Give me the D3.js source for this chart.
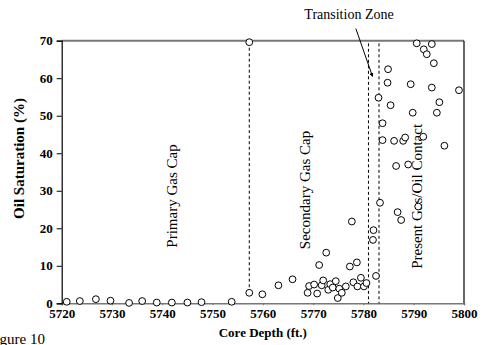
<!DOCTYPE html>
<html>
<head>
<meta charset="utf-8">
<script src="https://cdn.jsdelivr.net/npm/d3@7"></script>
<style>
  body { margin: 0; background: #fff; }
  text { font-family: "Liberation Serif", "Times New Roman", serif; }
</style>
</head>
<body>
<div id="chart"></div>
<script>
// core depth (ft.) and oil saturation (%)
const depth = [
  5721.0, 5723.6, 5726.8, 5729.7, 5733.4, 5736.0, 5738.9, 5741.9, 5745.0, 5747.8,
  5753.8, 5757.3, 5757.3, 5759.9, 5763.1, 5765.9,
  5768.9, 5769.2, 5770.2, 5770.8, 5771.2, 5771.7, 5772.0, 5772.6, 5773.0, 5773.4,
  5773.9, 5774.5, 5774.9, 5775.2, 5775.7, 5776.5, 5777.3, 5777.7, 5778.0, 5778.7,
  5778.8, 5779.5, 5780.1, 5780.6, 5781.9, 5782.0, 5782.5, 5783.3, 5783.0, 5783.8,
  5783.8, 5784.8, 5784.9, 5785.4, 5786.1, 5786.5, 5786.8, 5787.5, 5787.9, 5788.3,
  5788.9, 5789.4, 5789.8, 5790.6, 5790.9, 5791.9, 5792.0, 5792.6, 5793.6, 5793.6,
  5794.0, 5794.6, 5795.1, 5796.1, 5799.0
];
const oilSat = [
  0.4, 0.6, 1.1, 0.7, 0.1, 0.6, 0.2, 0.2, 0.2, 0.3,
  0.4, 2.8, 69.6, 2.4, 4.8, 6.4,
  2.8, 4.6, 5.0, 2.6, 10.2, 4.8, 6.1, 13.5, 3.6, 5.1,
  4.2, 5.9, 1.4, 3.9, 2.8, 4.5, 9.8, 21.8, 5.6, 10.9,
  4.5, 6.8, 4.5, 5.4, 16.9, 19.5, 7.3, 26.8, 54.8, 48.0,
  43.5, 58.8, 62.4, 52.8, 43.3, 36.6, 24.3, 22.2, 43.3, 44.2,
  37.0, 58.4, 50.8, 69.3, 25.8, 44.4, 67.7, 66.4, 69.1, 57.5,
  64.0, 50.8, 53.6, 42.0, 56.8
];

const xTicks = [5720, 5730, 5740, 5750, 5760, 5770, 5780, 5790, 5800];
const yTicks = [0, 10, 20, 30, 40, 50, 60, 70];

// dashed zone boundaries: depth, from, to
const boundaryDepth = [5757.3, 5781.0, 5783.1];
const boundaryFrom = [2.8, 0, 0];
const boundaryTo = [69.6, 69.3, 69.3];

const zoneLabels = ["Primary Gas Cap", "Secondary Gas Cap", "Present Gas/Oil Contact"];
const zoneLabelDepth = [5741.9, 5768.3, 5790.6];
const zoneLabelSat = [28.6, 30.2, 28.5];

const margin = { top: 40.7, right: 20, bottom: 41.7, left: 61.7 };
const width = 484 - margin.left - margin.right;
const height = 345 - margin.top - margin.bottom;

const root = d3.select("#chart")
    .append("svg")
    .attr("width", 484)
    .attr("height", 345);

const svg = root.append("g")
    .attr("transform", `translate(${margin.left},${margin.top})`);

const xScale = d3.scaleLinear().domain([5720, 5800]).range([0, width]);
const yScale = d3.scaleLinear().domain([0, 70]).range([height, 0]);

// frame: gray top/bottom, black left/right
svg.append("line").attr("x1", 0).attr("x2", width).attr("y1", 0).attr("y2", 0)
    .attr("stroke", "#777").attr("stroke-width", 2);
svg.append("line").attr("x1", width).attr("x2", width).attr("y1", 0).attr("y2", height)
    .attr("stroke", "#000").attr("stroke-width", 1.2);

// x axis
const xAxis = svg.append("g")
    .attr("transform", `translate(0,${height})`)
    .call(d3.axisBottom(xScale).tickValues(xTicks).tickSize(2).tickPadding(3).tickFormat(d3.format("d")));
xAxis.select(".domain").attr("stroke", "#777").attr("stroke-width", 1.6);
xAxis.selectAll(".tick line").attr("stroke", "#777");
xAxis.selectAll("text").attr("font-size", 13).attr("font-weight", "bold")
    .attr("font-family", "Liberation Serif").attr("fill", "#000");

// y axis
const yAxis = svg.append("g")
    .call(d3.axisLeft(yScale).tickValues(yTicks).tickSize(5).tickPadding(4));
yAxis.select(".domain").attr("stroke", "#000").attr("stroke-width", 1.2);
yAxis.selectAll("text").attr("font-size", 13).attr("font-weight", "bold")
    .attr("font-family", "Liberation Serif").attr("fill", "#000");

// dashed boundaries
svg.selectAll(".boundary")
    .data(boundaryDepth)
    .enter().append("line")
    .attr("class", "boundary")
    .attr("x1", d => xScale(d))
    .attr("x2", d => xScale(d))
    .attr("y1", (d, i) => yScale(boundaryTo[i]))
    .attr("y2", (d, i) => yScale(boundaryFrom[i]))
    .attr("stroke", "#000")
    .attr("stroke-width", 1)
    .attr("stroke-dasharray", "3,2.5");

// zone labels (vertical)
svg.selectAll(".zone")
    .data(zoneLabels)
    .enter().append("text")
    .attr("class", "zone")
    .attr("transform", (d, i) => `translate(${xScale(zoneLabelDepth[i]) + 5},${yScale(zoneLabelSat[i])}) rotate(-90)`)
    .attr("text-anchor", "middle")
    .attr("font-size", 15)
    .text(d => d);

// points
svg.selectAll("circle")
    .data(depth)
    .enter().append("circle")
    .attr("cx", d => xScale(d))
    .attr("cy", (d, i) => yScale(oilSat[i]))
    .attr("r", 3.4)
    .attr("fill", "#fff")
    .attr("stroke", "#000")
    .attr("stroke-width", 1);

// transition zone callout
root.append("defs").append("marker")
    .attr("id", "arrow")
    .attr("viewBox", "0 0 6 6")
    .attr("refX", 5).attr("refY", 3)
    .attr("markerWidth", 4).attr("markerHeight", 4)
    .attr("orient", "auto")
    .append("path").attr("d", "M0,0 L6,3 L0,6 Z").attr("fill", "#000");

svg.append("line")
    .attr("x1", xScale(5778.5)).attr("y1", yScale(73.2))
    .attr("x2", xScale(5781.8)).attr("y2", yScale(60.5))
    .attr("stroke", "#000").attr("stroke-width", 1)
    .attr("marker-end", "url(#arrow)");

root.append("text")
    .attr("x", 349).attr("y", 18.5)
    .attr("text-anchor", "middle")
    .attr("font-size", 14)
    .text("Transition Zone");

// axis titles
root.append("text")
    .attr("x", margin.left + width / 2).attr("y", 337)
    .attr("text-anchor", "middle")
    .attr("font-size", 13).attr("font-weight", "bold")
    .text("Core Depth (ft.)");

root.append("text")
    .attr("transform", "translate(24,158.5) rotate(-90)")
    .attr("text-anchor", "middle")
    .attr("font-size", 15).attr("font-weight", "bold")
    .text("Oil Saturation (%)");

// caption cut off at the left edge
root.append("text")
    .attr("x", -13).attr("y", 344)
    .attr("font-size", 15)
    .text("Figure 10");
</script>
</body>
</html>
